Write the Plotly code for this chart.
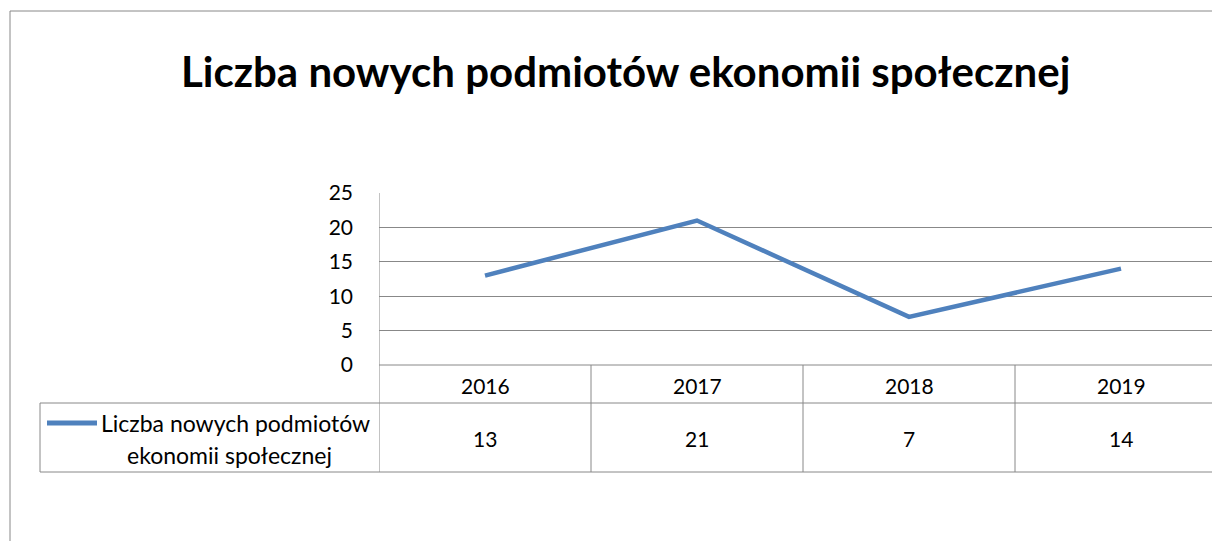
import plotly.graph_objects as go

years = ["2016", "2017", "2018", "2019"]
values = [13, 21, 7, 14]
series_name = "Liczba nowych podmiotów ekonomii społecznej"
legend_lines = ["Liczba nowych podmiotów", "ekonomii społecznej"]
title_text = "Liczba nowych podmiotów ekonomii społecznej"
y_ticks = [0, 5, 10, 15, 20, 25]

W, H = 1212, 541
FONT = "Lato"
GRID = "#888888"
BLUE = "#4F81BD"

def px(x):
    return x / W

def py(y):
    return 1 - y / H

xs = list(range(len(years)))
col_w = 212.0
plot_left = 379
x_range = [-0.5, -0.5 + (W - plot_left) / col_w]

fig = go.Figure()
fig.add_trace(go.Scatter(
    x=xs, y=values, mode="lines", name=series_name,
    line=dict(color=BLUE, width=4.5), showlegend=False, hoverinfo="skip",
))

fig.update_layout(
    template="none",
    width=W, height=H, autosize=False,
    margin=dict(l=0, r=0, t=0, b=0, pad=0, autoexpand=False),
    paper_bgcolor="white", plot_bgcolor="white",
    font=dict(family=FONT, color="#000000"),
    showlegend=False,
    xaxis=dict(domain=[px(plot_left), 1], range=x_range, showgrid=False, automargin=False,
               zeroline=False, showticklabels=False, showline=False, ticks="", fixedrange=True),
    yaxis=dict(domain=[py(365), py(193)], range=[0, 25], tickvals=y_ticks, automargin=False,
               showgrid=True, gridcolor=GRID, gridwidth=1, zeroline=False,
               showline=False, ticks="", ticklabelstandoff=25,
               tickfont=dict(family=FONT, size=21, color="#000000"), fixedrange=True),
)

shapes = []
# outer chart border (left and top)
shapes.append(dict(type="line", xref="paper", yref="paper", x0=px(10), x1=1, y0=py(11), y1=py(11),
                   line=dict(color=GRID, width=1)))
shapes.append(dict(type="line", xref="paper", yref="paper", x0=px(10), x1=px(10), y0=py(11), y1=0,
                   line=dict(color=GRID, width=1)))
# plot area left edge
shapes.append(dict(type="line", xref="x", yref="paper", x0=-0.5, x1=-0.5, y0=py(365), y1=py(193),
                   line=dict(color=GRID, width=1)))
# data table horizontals
shapes.append(dict(type="line", xref="x", yref="paper", x0=-0.5, x1=x_range[1], y0=py(365), y1=py(365),
                   line=dict(color=GRID, width=1)))
for yy in (403, 472):
    shapes.append(dict(type="line", xref="paper", yref="paper", x0=px(40), x1=1, y0=py(yy), y1=py(yy),
                       line=dict(color=GRID, width=1)))
# table verticals
for i in range(len(years)):
    shapes.append(dict(type="line", xref="x", yref="paper", x0=i - 0.5, x1=i - 0.5,
                       y0=py(472), y1=py(365), line=dict(color=GRID, width=1)))
shapes.append(dict(type="line", xref="paper", yref="paper", x0=px(40), x1=px(40),
                   y0=py(472), y1=py(403), line=dict(color=GRID, width=1)))
# legend key line
shapes.append(dict(type="line", xref="paper", yref="paper", x0=px(47), x1=px(97),
                   y0=py(423), y1=py(423), line=dict(color=BLUE, width=5)))
fig.update_layout(shapes=shapes)

anns = []
anns.append(dict(x=px(625), xref="paper", y=py(71), yref="paper", text="<b>" + title_text + "</b>",
                 showarrow=False, xanchor="center", yanchor="middle",
                 font=dict(family=FONT, size=42, color="#000000")))
for i, (yr, v) in enumerate(zip(years, values)):
    anns.append(dict(x=i, xref="x", y=py(385), yref="paper", text=yr, showarrow=False,
                     xanchor="center", yanchor="middle", font=dict(family=FONT, size=21, color="#000000")))
    anns.append(dict(x=i, xref="x", y=py(438), yref="paper", text=str(v), showarrow=False,
                     xanchor="center", yanchor="middle", font=dict(family=FONT, size=21, color="#000000")))
anns.append(dict(x=px(99), xref="paper", y=py(423), yref="paper", text=legend_lines[0], showarrow=False,
                 xanchor="left", yanchor="middle", font=dict(family=FONT, size=23, color="#000000")))
anns.append(dict(x=px(229), xref="paper", y=py(455), yref="paper", text=legend_lines[1], showarrow=False,
                 xanchor="center", yanchor="middle", font=dict(family=FONT, size=23, color="#000000")))
fig.update_layout(annotations=anns)

fig.write_html("out.html", config={"displayModeBar": False},
               post_script="document.body.style.margin='0';document.body.style.overflow='hidden';")
